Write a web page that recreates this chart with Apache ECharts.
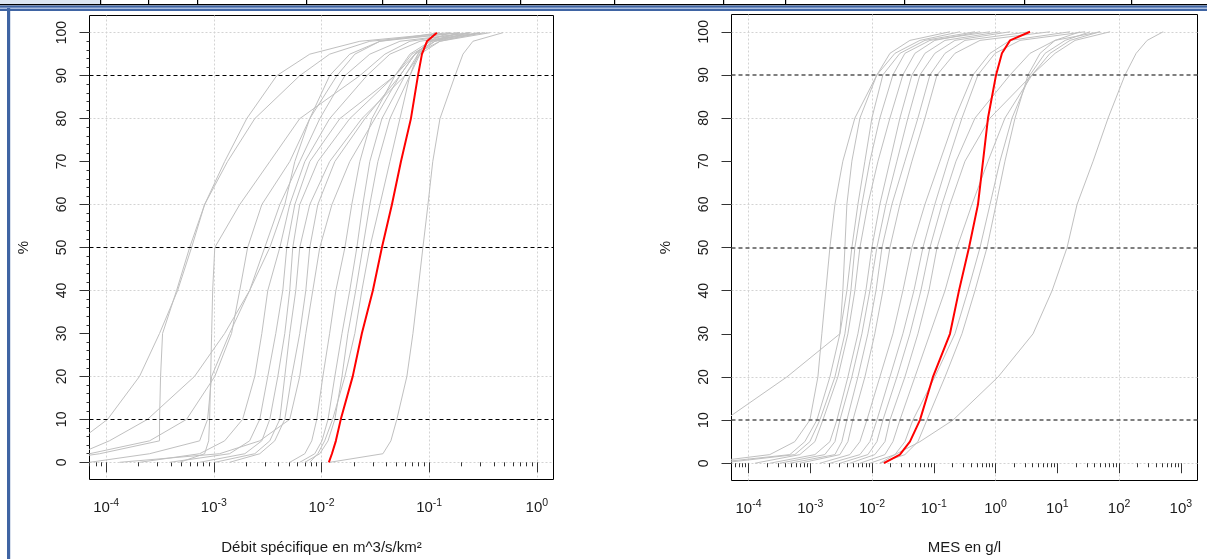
<!DOCTYPE html>
<html><head><meta charset="utf-8">
<script src="https://cdn.jsdelivr.net/npm/echarts@6/dist/echarts.min.js"></script>
<style>html,body{margin:0;padding:0;background:#fff}#c{width:1207px;height:559px}</style>
</head><body><div id="c"></div>
<script>
// ---------- DATA ----------
const pctLevels = [0, 2, 5, 10, 20, 30, 40, 50, 60, 70, 80, 90, 95, 98, 100];
const refLevels = [10, 50, 90];
const yTicks = [0, 10, 20, 30, 40, 50, 60, 70, 80, 90, 100];
const yGridLines = [0, 20, 40, 60, 80, 100];
const xTicksDebit = [1e-4, 1e-3, 1e-2, 1e-1, 1];
const xGridDebit = [1e-4, 1e-3, 1e-2, 1e-1, 1];
const xTicksMes = [1e-4, 1e-3, 1e-2, 1e-1, 1, 10, 100, 1000];
const xGridMes = [1e-4, 1e-2, 1, 100];

// Débit spécifique (m^3/s/km²) at each percent level
const debitRed = [0.0117, 0.0125, 0.0136, 0.0151, 0.0195, 0.0237, 0.0300, 0.0364, 0.0451, 0.0547, 0.0677, 0.0787, 0.0857, 0.0954, 0.118];
const debitG01 = [3.7e-5, 4.6e-5, 5.6e-5, 1.03e-4, 2.04e-4, 3.13e-4, 4.61e-4, 6.21e-4, 8.21e-4, 1.26e-3, 2.02e-3, 3.84e-3, 7.78e-3, 2.27e-2, 0.156];
const debitG02 = [2.4e-5, 8.7e-5, 3.13e-4, 3.13e-4, 3.20e-4, 3.34e-4, 4.51e-4, 5.96e-4, 8.21e-4, 1.34e-3, 2.40e-3, 6.28e-3, 1.19e-2, 2.81e-2, 0.193];
const debitG03 = [3.0e-5, 7.0e-5, 2.53e-4, 5.58e-4, 1.02e-3, 1.46e-3, 1.74e-3, 2.06e-3, 2.79e-3, 5.07e-3, 7.78e-3, 1.39e-2, 2.04e-2, 3.49e-2, 0.193];
const debitG04 = [4.81e-4, 8.21e-4, 8.95e-4, 9.14e-4, 9.34e-4, 9.54e-4, 9.75e-4, 1.02e-3, 1.74e-3, 3.31e-3, 6.28e-3, 2.27e-2, 3.88e-2, 6.62e-2, 0.239];
const debitG05 = [2.04e-4, 7.38e-4, 1.26e-3, 1.85e-3, 2.40e-3, 2.79e-3, 3.17e-3, 4.10e-3, 5.07e-3, 7.00e-3, 1.19e-2, 2.64e-2, 4.32e-2, 8.21e-2, 0.297];
const debitG06 = [3.88e-4, 1.40e-3, 2.15e-3, 2.67e-3, 3.17e-3, 3.76e-3, 4.37e-3, 4.76e-3, 5.65e-3, 7.78e-3, 1.48e-2, 4.81e-2, 7.38e-2, 0.126, 0.367];
const debitG07 = [7.38e-4, 1.94e-3, 2.79e-3, 3.31e-3, 3.93e-3, 4.56e-3, 5.07e-3, 5.41e-3, 6.28e-3, 9.24e-3, 1.83e-2, 4.81e-2, 6.92e-2, 0.113, 0.330];
const debitG08 = [1.02e-3, 2.40e-3, 3.31e-3, 4.10e-3, 4.56e-3, 5.07e-3, 5.77e-3, 6.28e-3, 7.78e-3, 1.19e-2, 2.37e-2, 5.96e-2, 8.21e-2, 0.126, 0.297];
const debitG09 = [3.7e-5, 5.6e-5, 1.07e-4, 2.42e-4, 6.62e-4, 1.26e-3, 2.15e-3, 2.97e-3, 4.10e-3, 6.28e-3, 9.64e-3, 1.65e-2, 2.81e-2, 5.35e-2, 0.239];
const debitG10 = [5.07e-3, 7.00e-3, 8.12e-3, 9.04e-3, 1.03e-2, 1.19e-2, 1.36e-2, 1.65e-2, 1.91e-2, 2.27e-2, 2.94e-2, 4.81e-2, 6.62e-2, 0.102, 0.297];
const debitG11 = [6.28e-3, 8.66e-3, 1.01e-2, 1.15e-2, 1.33e-2, 1.55e-2, 1.83e-2, 2.13e-2, 2.42e-2, 2.81e-2, 3.64e-2, 5.96e-2, 7.87e-2, 0.113, 0.239];
const debitG12 = [7.00e-3, 9.64e-3, 1.15e-2, 1.33e-2, 1.55e-2, 1.76e-2, 2.08e-2, 2.42e-2, 2.81e-2, 3.34e-2, 4.32e-2, 6.62e-2, 8.21e-2, 0.106, 0.193];
const debitG13 = [7.78e-3, 9.24e-3, 1.07e-2, 1.27e-2, 1.65e-2, 2.04e-2, 2.37e-2, 2.81e-2, 3.49e-2, 4.32e-2, 5.35e-2, 6.62e-2, 7.87e-2, 9.75e-2, 0.156];
const debitG14 = [1.19e-2, 3.72e-2, 4.41e-2, 5.01e-2, 6.21e-2, 7.07e-2, 7.87e-2, 8.75e-2, 9.75e-2, 0.108, 0.126, 0.174, 0.206, 0.255, 0.485];
const debitG15 = [7.0e-5, 2.53e-4, 7.38e-4, 8.75e-4, 9.54e-4, 1.40e-3, 2.15e-3, 3.31e-3, 4.56e-3, 5.65e-3, 7.78e-3, 1.19e-2, 1.83e-2, 3.49e-2, 0.126];
const debitG16 = [1.40e-3, 2.67e-3, 3.68e-3, 4.56e-3, 5.29e-3, 6.28e-3, 7.15e-3, 7.78e-3, 9.24e-3, 1.33e-2, 2.53e-2, 5.35e-2, 7.38e-2, 0.102, 0.239];
const debitG17 = [1.33e-4, 1.13e-3, 2.67e-3, 5.07e-3, 6.28e-3, 7.15e-3, 8.30e-3, 9.64e-3, 1.25e-2, 1.83e-2, 3.13e-2, 5.35e-2, 7.38e-2, 0.102, 0.193];

// MES (g/l) at each percent level
const mesRed = [0.0156, 0.0283, 0.0411, 0.0597, 0.097, 0.183, 0.256, 0.372, 0.520, 0.627, 0.755, 1.02, 1.27, 1.72, 3.62];
const mesG01 = [1.63e-5, 2.21e-4, 5.62e-4, 9.86e-4, 1.33e-3, 1.54e-3, 1.79e-3, 2.08e-3, 2.51e-3, 3.37e-3, 5.28e-3, 1.20e-2, 2.35e-2, 5.97e-2, 0.266];
const mesG02 = [2.36e-5, 4.67e-4, 8.17e-4, 1.28e-3, 2.08e-3, 3.02e-3, 3.92e-3, 4.72e-3, 5.91e-3, 7.67e-3, 9.96e-3, 1.50e-2, 2.83e-2, 7.19e-2, 0.465];
const mesG03 = [3.43e-5, 5.62e-4, 9.86e-4, 1.43e-3, 2.51e-3, 3.64e-3, 4.55e-3, 5.28e-3, 6.86e-3, 9.24e-3, 1.34e-2, 2.18e-2, 3.41e-2, 8.67e-2, 0.814];
const mesG04 = [1.27e-4, 6.78e-4, 1.19e-3, 1.60e-3, 2.80e-3, 4.07e-3, 5.28e-3, 6.37e-3, 8.57e-3, 1.25e-2, 1.95e-2, 3.16e-2, 4.95e-2, 0.104, 0.561];
const mesG05 = [2.21e-4, 1.19e-3, 2.08e-3, 2.70e-3, 4.07e-3, 5.91e-3, 7.96e-3, 9.96e-3, 1.34e-2, 1.95e-2, 2.83e-2, 4.43e-2, 7.19e-2, 0.152, 1.18];
const mesG06 = [3.21e-4, 1.72e-3, 2.51e-3, 3.02e-3, 4.72e-3, 6.86e-3, 9.24e-3, 1.20e-2, 1.68e-2, 2.53e-2, 3.81e-2, 5.97e-2, 0.104, 0.220, 1.72];
const mesG07 = [4.67e-4, 2.51e-3, 3.25e-3, 3.92e-3, 5.91e-3, 8.57e-3, 1.16e-2, 1.45e-2, 2.10e-2, 3.41e-2, 5.54e-2, 8.67e-2, 0.152, 0.320, 3.62];
const mesG08 = [6.78e-4, 3.02e-3, 4.07e-3, 4.90e-3, 7.67e-3, 1.11e-2, 1.50e-2, 1.95e-2, 2.83e-2, 4.43e-2, 7.19e-2, 0.113, 0.220, 0.561, 7.64];
const mesG09 = [1.43e-3, 4.38e-3, 6.37e-3, 8.26e-3, 1.34e-2, 2.18e-2, 3.16e-2, 4.43e-2, 7.19e-2, 0.126, 0.220, 0.432, 0.814, 1.72, 16.1];
const mesG10 = [2.08e-3, 6.37e-3, 9.24e-3, 1.20e-2, 1.95e-2, 3.16e-2, 4.77e-2, 6.68e-2, 0.104, 0.170, 0.286, 0.520, 0.982, 2.49, 28.2];
const mesG11 = [3.02e-3, 8.57e-3, 1.20e-2, 1.50e-2, 2.53e-2, 4.11e-2, 6.19e-2, 8.67e-2, 0.136, 0.229, 0.465, 1.72, 3.62, 9.21, 49.3];
const mesG12 = [4.38e-3, 1.11e-2, 1.62e-2, 1.95e-2, 3.41e-2, 5.54e-2, 8.35e-2, 0.113, 0.183, 0.320, 0.814, 3.90, 9.21, 19.4, 71.6];
const mesG13 = [6.37e-3, 1.62e-2, 2.18e-2, 2.83e-2, 4.95e-2, 8.67e-2, 0.152, 0.238, 0.416, 0.755, 1.42, 3.90, 7.64, 16.1, 49.3];
const mesG14 = [9.24e-3, 2.35e-2, 3.41e-2, 4.59e-2, 0.104, 0.220, 0.358, 0.561, 0.814, 1.18, 1.85, 3.62, 6.34, 13.4, 34.0];
const mesG15 = [1.34e-2, 3.41e-2, 5.54e-2, 7.74e-2, 0.152, 0.286, 0.465, 0.728, 1.02, 1.42, 2.07, 3.36, 5.26, 9.21, 23.4];
const mesG16 = [2.5e-6, 7.7e-6, 1.63e-5, 4.13e-5, 4.18e-4, 3.02e-3, 3.37e-3, 3.64e-3, 3.92e-3, 4.72e-3, 6.37e-3, 1.20e-2, 1.95e-2, 4.11e-2, 0.183];
const mesG17 = [1.34e-2, 2.35e-2, 5.97e-2, 0.205, 1.10, 4.05, 8.24, 14.4, 20.9, 38.0, 66.5, 125, 189, 285, 518];

const debitGray = [debitG01, debitG02, debitG03, debitG04, debitG05, debitG06, debitG07, debitG08, debitG09, debitG10, debitG11, debitG12, debitG13, debitG14, debitG15, debitG16, debitG17];
const mesGray = [mesG01, mesG02, mesG03, mesG04, mesG05, mesG06, mesG07, mesG08, mesG09, mesG10, mesG11, mesG12, mesG13, mesG14, mesG15, mesG16, mesG17];

// ---------- CHART ----------
const FONT = '"Liberation Sans", Arial, sans-serif';
const TXT = '#1a1a1a';
const xRangeDebit = [Math.pow(10, -4.155), Math.pow(10, 0.155)];
const xRangeMes = [Math.pow(10, -4.275), Math.pow(10, 3.27)];

function minorTicks(range) {
  const out = [];
  for (let e = -6; e <= 4; e++) for (let m = 2; m <= 9; m++) {
    const v = m * Math.pow(10, e);
    if (v > range[0] && v < range[1]) out.push(v);
  }
  return out;
}
const yMinor = [];
for (let v = 2; v < 100; v += 2) if (v % 10 !== 0) yMinor.push(v);

function fmtPow(v) {
  const e = Math.round(Math.log10(v));
  return '{b|10}{s|' + e + '}';
}
const richPow = {
  b: { fontSize: 15, fontFamily: FONT, color: TXT },
  s: { fontSize: 10.5, fontFamily: FONT, color: TXT, padding: [0, 0, 9, 0] }
};

function xAxes(gridIndex, range, ticks, grid, name, nameGap) {
  const base = { type: 'log', logBase: 10, gridIndex, min: range[0], max: range[1], position: 'bottom',
    axisLine: { show: false }, axisLabel: { show: false }, axisTick: { show: false }, splitLine: { show: false } };
  return [
    Object.assign({}, base, {
      axisTick: { show: true, length: 10, customValues: ticks, lineStyle: { color: '#333', width: 1 } },
      axisLabel: { show: true, customValues: ticks, formatter: fmtPow, rich: richPow, margin: 18 },
      name, nameLocation: 'middle', nameGap,
      nameTextStyle: { fontSize: 15, fontFamily: FONT, color: TXT }
    }),
    Object.assign({}, base, {
      axisTick: { show: true, length: 4, customValues: minorTicks(range), lineStyle: { color: '#333', width: 1 } }
    }),
    Object.assign({}, base, {
      axisTick: { show: false, customValues: grid },
      splitLine: { show: true, lineStyle: { color: '#d3d3d3', type: [2, 2], width: 1 } }
    })
  ];
}
function yAxes(gridIndex, withMinor) {
  const base = { type: 'value', gridIndex, min: -4, max: 104, position: 'left',
    axisLine: { show: false }, axisLabel: { show: false }, axisTick: { show: false }, splitLine: { show: false } };
  return [
    Object.assign({}, base, {
      axisTick: { show: true, length: 10, customValues: yTicks, lineStyle: { color: '#333', width: 1 } },
      axisLabel: { show: true, customValues: yTicks, rotate: 90, margin: 20, fontSize: 14, fontFamily: FONT, color: TXT },
      name: '%', nameLocation: 'middle', nameGap: 58, nameRotate: 90,
      nameTextStyle: { fontSize: 15, fontFamily: FONT, color: TXT }
    }),
    Object.assign({}, base, {
      axisTick: { show: withMinor, length: 3, customValues: withMinor ? yMinor : [50], lineStyle: { color: '#333', width: 1 } }
    }),
    Object.assign({}, base, {
      axisTick: { show: false, customValues: yGridLines },
      splitLine: { show: true, lineStyle: { color: '#d3d3d3', type: [2, 2], width: 1 } }
    })
  ];
}

function toPairs(vals) { return pctLevels.map((p, i) => [vals[i], p]); }

const series = [];
function addPanel(grays, red, axisIdx, refColor, refWidth) {
  grays.forEach(g => series.push({
    type: 'line', xAxisIndex: axisIdx, yAxisIndex: axisIdx, data: toPairs(g),
    showSymbol: false, symbol: 'none', silent: true, clip: true, z: 2,
    lineStyle: { color: '#c0c0c0', width: 1 }
  }));
  series.push({
    type: 'line', xAxisIndex: axisIdx, yAxisIndex: axisIdx, data: toPairs(red),
    showSymbol: false, symbol: 'none', silent: true, clip: true, z: 3,
    lineStyle: { color: '#ff0000', width: 2 },
    markLine: { silent: true, symbol: ['none', 'none'], animation: false, label: { show: false },
      lineStyle: { color: refColor, width: refWidth, type: [4, 3] },
      data: refLevels.map(v => ({ yAxis: v })) }
  });
}
addPanel(debitGray, debitRed, 0, '#000', 1);
addPanel(mesGray, mesRed, 3, '#555', 1.5);

const chart = echarts.init(document.getElementById('c'), null, { renderer: 'canvas' });
chart.setOption({
  animation: false,
  backgroundColor: '#fff',
  grid: [
    { left: 89.5, top: 15.5, width: 464, height: 464, show: true, borderColor: '#000', borderWidth: 1, backgroundColor: 'transparent', outerBoundsMode: 'none' },
    { left: 731.5, top: 14.5, width: 466, height: 466, show: true, borderColor: '#000', borderWidth: 1, backgroundColor: 'transparent', outerBoundsMode: 'none' }
  ],
  xAxis: [].concat(
    xAxes(0, xRangeDebit, xTicksDebit, xGridDebit, 'Débit spécifique en m^3/s/km²', 61),
    xAxes(1, xRangeMes, xTicksMes, xGridMes, 'MES en g/l', 60)
  ),
  yAxis: [].concat(yAxes(0, true), yAxes(1, false)),
  series,
  graphic: [
    { type: 'rect', shape: { x: 0, y: 0, width: 100, height: 4.5 }, style: { fill: '#dbe5f1' }, silent: true },
    { type: 'rect', shape: { x: 0, y: 4, width: 1207, height: 1.2 }, style: { fill: '#000' }, silent: true },
    ...[100, 148, 197, 306, 382, 426, 520, 614, 723, 785, 904, 1024, 1131].map(x => ({
      type: 'rect', shape: { x: x, y: 0, width: 1.2, height: 5 }, style: { fill: '#000' }, silent: true })),
    { type: 'rect', shape: { x: 0, y: 5.5, width: 1207, height: 5.5 }, style: { fill: '#3f64a3' }, silent: true },
    { type: 'rect', shape: { x: 0, y: 7.5, width: 1207, height: 1.5 }, style: { fill: '#a9bde0' }, silent: true },
    { type: 'rect', shape: { x: 7, y: 8, width: 3.2, height: 551 }, style: { fill: '#3f64a3' }, silent: true }
  ]
});
</script></body></html>
